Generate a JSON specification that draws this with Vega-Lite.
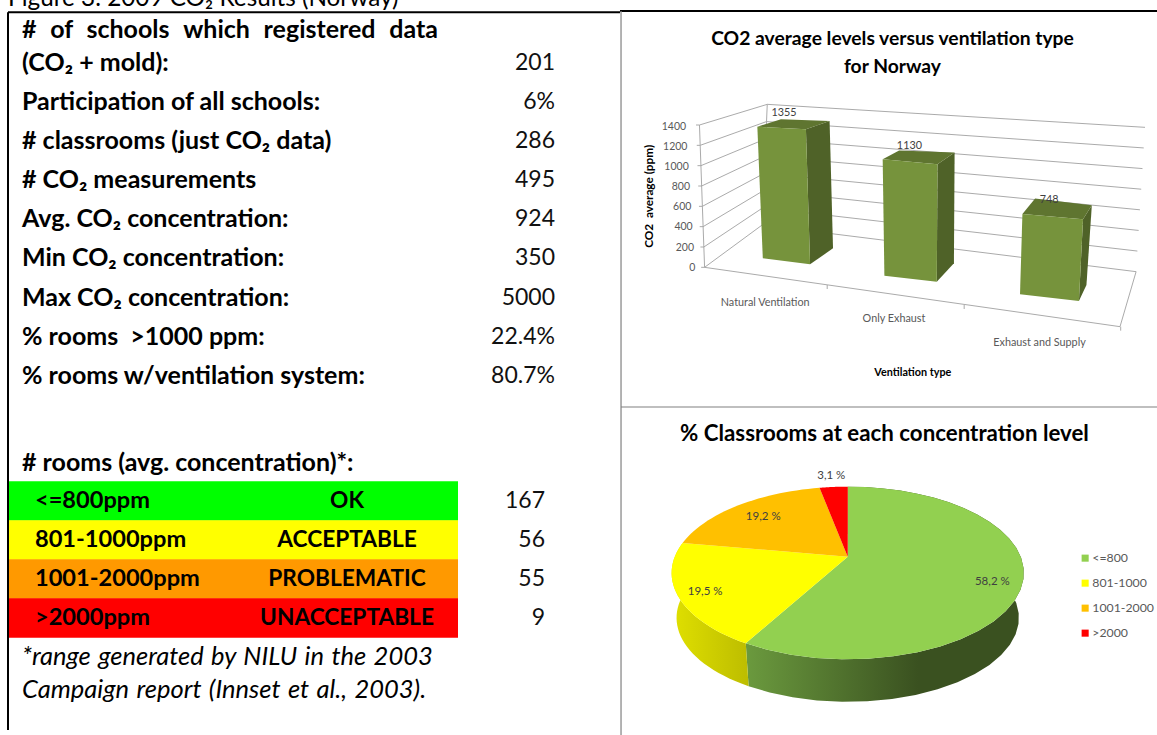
{"$schema":"https://vega.github.io/schema/vega-lite/v6.json","padding":0,"spacing":0,"bounds":"flush","background":"white","resolve":{"scale":{"fill":"independent"},"legend":{"fill":"independent"}},"config":{"view":{"stroke":null},"font":"Lato","text":{"font":"Lato"},"title":{"font":"Lato"},"legend":{"labelFont":"Lato"}},
"datasets":{
"frame":[{"part":"frame"}],
"stats":[{"line":1,"label":"#\u00a0\u00a0\u200aof\u00a0\u00a0\u200aschools\u00a0\u00a0\u200awhich\u00a0\u00a0\u200aregistered\u00a0\u00a0\u200adata"},{"line":2,"label":"(CO\u2082 + mold):","value":"201"},{"line":3,"label":"Participation of all schools:","value":"6%"},{"line":4,"label":"# classrooms (just CO\u2082 data)","value":"286"},{"line":5,"label":"# CO\u2082 measurements","value":"495"},{"line":6,"label":"Avg. CO\u2082 concentration:","value":"924"},{"line":7,"label":"Min CO\u2082 concentration:","value":"350"},{"line":8,"label":"Max CO\u2082 concentration:","value":"5000"},{"line":9,"label":"% rooms \u00a0>1000 ppm:","value":"22.4%"},{"line":10,"label":"% rooms w/ventilation system:","value":"80.7%"},{"line":11,"label":"# rooms (avg. concentration)*:"}],
"levels":[{"line":12,"range":"<=800ppm","status":"OK","count":167},{"line":13,"range":"801-1000ppm","status":"ACCEPTABLE","count":56},{"line":14,"range":"1001-2000ppm","status":"PROBLEMATIC","count":55},{"line":15,"range":">2000ppm","status":"UNACCEPTABLE","count":9}],
"notes":[{"line":0,"kind":"caption","label":"Figure 3. 2009 CO\u2082 Results (Norway)"},{"line":16,"kind":"note","label":"*range\u00a0\u200agenerated\u00a0\u200aby\u00a0\u200aNILU\u00a0\u200ain\u00a0\u200athe\u00a0\u200a2003"},{"line":17,"kind":"note","label":"Campaign \u200areport \u200a(Innset \u200aet \u200aal., \u200a2003)."}],
"bars":[{"type":"Natural Ventilation","value":1355,"i":0},{"type":"Only Exhaust","value":1130,"i":1},{"type":"Exhaust and Supply","value":748,"i":2}],
"ticks":[{"tick":0},{"tick":200},{"tick":400},{"tick":600},{"tick":800},{"tick":1000},{"tick":1200},{"tick":1400}],
"slices":[{"level":"<=800","share":58.2,"label":"58,2 %","i":0},{"level":"801-1000","share":19.5,"label":"19,5 %","i":1},{"level":"1001-2000","share":19.2,"label":"19,2 %","i":2},{"level":">2000","share":3.1,"label":"3,1 %","i":3}]
},
"hconcat":[
{"width":620,"height":735,
"encoding":{"x":{"field":"col","type":"quantitative","axis":null,"scale":{"domain":[0,1,2,3,4,5,6,7],"range":[8,22,35,347,458,545,555,620],"nice":false,"zero":false}},"y":{"field":"line","type":"quantitative","axis":null,"scale":{"domain":[0,1,2,3,4,5,6,7,8,9,10,11,12,13,14,15,16,17,18],"range":[-5,30,63,102,141,180,219,258,298,337,376,463,501,540,579,618,657,690,735],"nice":false,"zero":false}}},
"layer":[
{"data":{"name":"levels"},"transform":[{"calculate":"0","as":"col"},{"calculate":"4","as":"colEnd"}],"mark":{"type":"bar","orient":"horizontal","size":39.5},"encoding":{"x2":{"field":"colEnd"},"fill":{"field":"range","type":"nominal","legend":null,"scale":{"domain":["<=800ppm","801-1000ppm","1001-2000ppm",">2000ppm"],"range":["#00ff00","#ffff00","#ff9900","#ff0000"]}}}},
{"data":{"name":"stats"},"transform":[{"calculate":"1","as":"col"}],"mark":{"type":"text","align":"left","fontSize":25,"fontWeight":"bold","color":"#000"},"encoding":{"text":{"field":"label"}}},
{"data":{"name":"stats"},"transform":[{"filter":"datum.value"},{"calculate":"6","as":"col"}],"mark":{"type":"text","align":"right","fontSize":23,"color":"#111"},"encoding":{"text":{"field":"value"}}},
{"data":{"name":"levels"},"transform":[{"calculate":"2","as":"col"}],"mark":{"type":"text","align":"left","fontSize":23.6,"fontWeight":"bold","color":"#000"},"encoding":{"text":{"field":"range"}}},
{"data":{"name":"levels"},"transform":[{"calculate":"3","as":"col"}],"mark":{"type":"text","align":"center","fontSize":22.7,"fontWeight":"bold","color":"#000"},"encoding":{"text":{"field":"status"}}},
{"data":{"name":"levels"},"transform":[{"calculate":"5","as":"col"}],"mark":{"type":"text","align":"right","fontSize":23,"color":"#111"},"encoding":{"text":{"field":"count"}}},
{"data":{"name":"notes"},"transform":[{"filter":"datum.kind=='note'"},{"calculate":"1","as":"col"}],"mark":{"type":"text","align":"left","fontSize":25.5,"fontStyle":"italic","color":"#000"},"encoding":{"text":{"field":"label"}}},
{"data":{"name":"notes"},"transform":[{"filter":"datum.kind=='caption'"},{"calculate":"0","as":"col"}],"mark":{"type":"text","align":"left","fontSize":24.3,"color":"#000","clip":true},"encoding":{"text":{"field":"label"}}},
{"data":{"name":"frame"},"transform":[{"calculate":"0","as":"col"},{"calculate":"0.43","as":"line"},{"calculate":"18","as":"lineEnd"}],"mark":{"type":"rule","color":"#000","strokeWidth":2},"encoding":{"y2":{"field":"lineEnd"}}},
{"data":{"name":"frame"},"transform":[{"calculate":"0","as":"col"},{"calculate":"7","as":"colEnd"},{"calculate":"0.43","as":"line"}],"mark":{"type":"rule","color":"#000","strokeWidth":2},"encoding":{"x2":{"field":"colEnd"}}}
]},
{"spacing":0,"bounds":"flush","resolve":{"scale":{"fill":"independent"}},"vconcat":[
{"width":537,"height":408,
"title":{"text":["CO2 average levels versus ventilation type","for Norway"],"fontSize":19.3,"fontWeight":"bold","color":"#000","lineHeight":28,"baseline":"top","offset":-77,"dx":4},
"encoding":{"x":{"field":"px","type":"quantitative","axis":null,"scale":{"domain":[0,1568],"nice":false,"zero":false}},"y":{"field":"py","type":"quantitative","axis":null,"scale":{"domain":[1194,-30],"nice":false,"zero":false}}},
"layer":[
{"data":{"name":"frame"},"transform":[{"calculate":"0","as":"px"},{"calculate":"1568","as":"pxEnd"},{"calculate":"3","as":"py"}],"mark":{"type":"rule","color":"#000","strokeWidth":2},"encoding":{"x2":{"field":"pxEnd"}}},
{"data":{"name":"frame"},"transform":[{"calculate":"3","as":"px"},{"calculate":"3","as":"py"},{"calculate":"1194","as":"pyEnd"}],"mark":{"type":"rule","color":"#808080","strokeWidth":1.2},"encoding":{"y2":{"field":"pyEnd"}}},
{"data":{"name":"frame"},"transform":[{"calculate":"3","as":"px"},{"calculate":"1568","as":"pxEnd"},{"calculate":"1191","as":"py"}],"mark":{"type":"rule","color":"#808080","strokeWidth":1.2},"encoding":{"x2":{"field":"pxEnd"}}},
{"data":{"name":"ticks"},"transform":[{"calculate":"datum.tick/1400","as":"f"},{"calculate":"[0,1,2,3]","as":"k"},{"flatten":["k"]},{"calculate":"[237-15*datum.f,247-15*datum.f,415+15*datum.f,1507+26*datum.f][datum.k]","as":"px"},{"calculate":"[772-427*datum.f,772-427*datum.f,645-362*datum.f,785-433*datum.f][datum.k]","as":"py"}],"mark":{"type":"line","color":"#a0a0a0","strokeWidth":0.9},"encoding":{"detail":{"field":"tick"},"order":{"field":"k"}}},
{"data":{"name":"ticks"},"transform":[{"calculate":"datum.tick/1400","as":"f"},{"calculate":"247-15*datum.f","as":"px"},{"calculate":"772-427*datum.f","as":"py"}],"mark":{"type":"line","color":"#a0a0a0","strokeWidth":0.9},"encoding":{"order":{"field":"tick"}}},
{"data":{"name":"ticks"},"transform":[{"calculate":"datum.tick/1400","as":"f"},{"calculate":"415+15*datum.f","as":"px"},{"calculate":"645-362*datum.f","as":"py"}],"mark":{"type":"line","color":"#a0a0a0","strokeWidth":0.9},"encoding":{"order":{"field":"tick"}}},
{"data":{"name":"ticks"},"transform":[{"filter":"datum.tick==0"},{"calculate":"[0,1,2]","as":"k"},{"flatten":["k"]},{"calculate":"[247,1460,1507][datum.k]","as":"px"},{"calculate":"[772,950,785][datum.k]","as":"py"}],"mark":{"type":"line","color":"#a0a0a0","strokeWidth":0.9},"encoding":{"order":{"field":"k"}}},
{"data":{"name":"bars"},"transform":[{"calculate":"[605,1005,1462][datum.i]","as":"px"},{"calculate":"[825,885,950][datum.i]","as":"py"},{"calculate":"datum.py+12","as":"py2"}],"mark":{"type":"rule","color":"#a0a0a0","strokeWidth":0.9},"encoding":{"y2":{"field":"py2"}}},
{"data":{"name":"ticks"},"transform":[{"calculate":"datum.tick/1400","as":"f"},{"calculate":"220-27*datum.f","as":"px"},{"calculate":"773-423*datum.f","as":"py"}],"mark":{"type":"text","align":"right","fontSize":10.5,"color":"#595959"},"encoding":{"text":{"field":"tick"}}},
{"data":{"name":"bars"},"transform":[
{"calculate":"[417,772,1168][datum.i]","as":"flx"},{"calculate":"[745,797,853][datum.i]","as":"fly"},
{"calculate":"[555,925,1340][datum.i]","as":"frx"},{"calculate":"[763,815,873][datum.i]","as":"fry"},
{"calculate":"[622,975,1362][datum.i]","as":"brx"},{"calculate":"[715,760,825][datum.i]","as":"bry"},
{"calculate":"datum.flx+[-0.0118,-0.0044,0.0094][datum.i]*datum.value","as":"tflx"},{"calculate":"datum.fly-[0.2915,0.309,0.322][datum.i]*datum.value","as":"tfly"},
{"calculate":"datum.frx+[-0.0089,0.0018,0.016][datum.i]*datum.value","as":"tfrx"},{"calculate":"datum.fry-[0.299,0.312,0.3275][datum.i]*datum.value","as":"tfry"},
{"calculate":"datum.brx+[-0.0074,0.0018,0.021][datum.i]*datum.value","as":"tbrx"},{"calculate":"datum.bry-[0.282,0.294,0.32][datum.i]*datum.value","as":"tbry"},
{"calculate":"datum.tflx+[69,48,37][datum.i]","as":"tblx"},{"calculate":"datum.tfly-[22,26,47][datum.i]","as":"tbly"}],
"layer":[
{"transform":[{"calculate":"[0,1,2,3]","as":"k"},{"flatten":["k"]},{"calculate":"[datum.frx,datum.brx,datum.tbrx,datum.tfrx][datum.k]","as":"px"},{"calculate":"[datum.fry,datum.bry,datum.tbry,datum.tfry][datum.k]","as":"py"}],"mark":{"type":"line","fill":"#4f6228","stroke":null},"encoding":{"detail":{"field":"type"},"order":{"field":"k"}}},
{"transform":[{"calculate":"[0,1,2,3]","as":"k"},{"flatten":["k"]},{"calculate":"[datum.tflx,datum.tblx,datum.tbrx,datum.tfrx][datum.k]","as":"px"},{"calculate":"[datum.tfly,datum.tbly,datum.tbry,datum.tfry][datum.k]","as":"py"}],"mark":{"type":"line","fill":"#5f7530","stroke":null},"encoding":{"detail":{"field":"type"},"order":{"field":"k"}}},
{"transform":[{"calculate":"[0,1,2,3]","as":"k"},{"flatten":["k"]},{"calculate":"[datum.flx,datum.frx,datum.tfrx,datum.tflx][datum.k]","as":"px"},{"calculate":"[datum.fly,datum.fry,datum.tfry,datum.tfly][datum.k]","as":"py"}],"mark":{"type":"line","fill":"#76933c","stroke":null},"encoding":{"detail":{"field":"type"},"order":{"field":"k"}}},
{"transform":[{"calculate":"datum.tflx+78","as":"px"},{"calculate":"datum.tfly-41","as":"py"}],"mark":{"type":"text","fontSize":10.8,"color":"#404040"},"encoding":{"text":{"field":"value"}}}
]},
{"data":{"name":"bars"},"transform":[{"calculate":"[424,800,1225][datum.i]","as":"px"},{"calculate":"[878,928,1000][datum.i]","as":"py"}],"mark":{"type":"text","fontSize":10.8,"color":"#595959"},"encoding":{"text":{"field":"type"}}},
{"data":{"name":"frame"},"transform":[{"calculate":"855","as":"px"},{"calculate":"1090","as":"py"}],"mark":{"type":"text","fontSize":10.8,"fontWeight":"bold","color":"#000"},"encoding":{"text":{"value":"Ventilation type"}}},
{"data":{"name":"frame"},"transform":[{"calculate":"85","as":"px"},{"calculate":"559","as":"py"}],"mark":{"type":"text","fontSize":11.8,"fontWeight":"bold","angle":270,"color":"#000"},"encoding":{"text":{"value":"CO2\u00a0\u00a0average (ppm)"}}}
]},
{"width":537,"height":327,
"title":{"text":"% Classrooms at each concentration level","fontSize":22.3,"fontWeight":"bold","color":"#000","baseline":"top","offset":-38,"dx":-4},
"data":{"name":"slices"},
"transform":[{"window":[{"op":"sum","field":"share","as":"cum"}],"frame":[null,0],"sort":[{"field":"i"}]},{"calculate":"datum.cum-datum.share","as":"start"}],
"encoding":{"x":{"field":"px","type":"quantitative","axis":null,"scale":{"domain":[0,1568],"nice":false,"zero":false}},"y":{"field":"py","type":"quantitative","axis":null,"scale":{"domain":[975,-6],"nice":false,"zero":false}}},
"layer":[
{"data":{"name":"frame"},"transform":[{"calculate":"3","as":"px"},{"calculate":"-6","as":"py"},{"calculate":"975","as":"pyEnd"}],"mark":{"type":"rule","color":"#808080","strokeWidth":1.2},"encoding":{"y2":{"field":"pyEnd"}}},
{"transform":[{"filter":"datum.i==0"},{"calculate":"[0,1,2,3,4,5,6,7,8,9,10,11,12,13,14,15,16,17,18,19,20,21,22,23,24,25,26,27,28,29,30,31,32,33,34,35,36,37,38,39,40,41,42,43,44,45,46,47,48,49,50,51,52,53,54,55,56,57,58,59,60,61]","as":"k"},{"flatten":["k"]},{"calculate":"(datum.k<=30?datum.k:61-datum.k)/30","as":"t"},{"calculate":"2*PI*(datum.start+datum.share*datum.t)/100","as":"th"},{"calculate":"sin(datum.th)","as":"X"},{"calculate":"-cos(datum.th)","as":"Y"},{"calculate":"505*datum.X/(1-0.189*datum.Y)","as":"dx"},{"calculate":"249.7*datum.Y/(1-0.189*datum.Y)","as":"dy"},{"calculate":"datum.k<=30?665+datum.dx:665+0.972*datum.dx","as":"px"},{"calculate":"datum.k<=30?440+datum.dy:440+0.972*datum.dy+136","as":"py"}],"mark":{"type":"line","stroke":null,"fill":{"gradient":"linear","x1":0,"x2":1,"y1":0,"y2":0,"stops":[{"offset":0,"color":"#6b9a3e"},{"offset":0.62,"color":"#3a5120"},{"offset":1,"color":"#3a5120"}]}},"encoding":{"order":{"field":"k"}}},
{"transform":[{"filter":"datum.i==1"},{"calculate":"[0,1,2,3,4,5,6,7,8,9,10,11,12,13,14,15,16,17,18,19,20,21,22,23,24,25,26,27,28,29,30,31,32,33,34,35,36,37,38,39,40,41,42,43,44,45,46,47,48,49,50,51,52,53,54,55,56,57,58,59,60,61]","as":"k"},{"flatten":["k"]},{"calculate":"(datum.k<=30?datum.k:61-datum.k)/30","as":"t"},{"calculate":"2*PI*(datum.start+datum.share*datum.t)/100","as":"th"},{"calculate":"sin(datum.th)","as":"X"},{"calculate":"-cos(datum.th)","as":"Y"},{"calculate":"505*datum.X/(1-0.189*datum.Y)","as":"dx"},{"calculate":"249.7*datum.Y/(1-0.189*datum.Y)","as":"dy"},{"calculate":"datum.k<=30?665+datum.dx:665+0.972*datum.dx","as":"px"},{"calculate":"datum.k<=30?440+datum.dy:440+0.972*datum.dy+136","as":"py"}],"mark":{"type":"line","stroke":null,"fill":{"gradient":"linear","x1":0,"x2":1,"y1":0,"y2":0,"stops":[{"offset":0,"color":"#e0e000"},{"offset":1,"color":"#bdbd00"}]}},"encoding":{"order":{"field":"k"}}},
{"transform":[{"calculate":"[-1,0,1,2,3,4,5,6,7,8,9,10,11,12,13,14,15,16,17,18,19,20,21,22,23,24,25,26,27,28,29,30]","as":"k"},{"flatten":["k"]},{"calculate":"2*PI*(datum.start+datum.share*max(datum.k,0)/30)/100","as":"th"},{"calculate":"datum.k<0?0:1","as":"r"},{"calculate":"datum.r*sin(datum.th)","as":"X"},{"calculate":"-datum.r*cos(datum.th)","as":"Y"},{"calculate":"665+505*datum.X/(1-0.189*datum.Y)","as":"px"},{"calculate":"440+249.7*datum.Y/(1-0.189*datum.Y)","as":"py"}],"mark":{"type":"line","stroke":null},"encoding":{"order":{"field":"k"},"fill":{"field":"level","type":"nominal","sort":null,"scale":{"domain":["<=800","801-1000","1001-2000",">2000"],"range":["#92d050","#ffff00","#ffc000","#ff0000"]},"legend":{"title":null,"orient":"none","legendX":459,"legendY":144,"symbolType":"square","symbolSize":50,"labelFontSize":12.3,"labelOffset":1,"labelColor":"#595959","rowPadding":12,"symbolStrokeWidth":0}}}},
{"transform":[{"calculate":"2*PI*(datum.start+datum.share/2)/100","as":"th"},{"calculate":"[0.83,0.85,0.75,1.2][datum.i]","as":"r"},{"calculate":"datum.r*sin(datum.th)","as":"X"},{"calculate":"-datum.r*cos(datum.th)","as":"Y"},{"calculate":"665+505*datum.X/(1-0.189*datum.Y)","as":"px"},{"calculate":"440+249.7*datum.Y/(1-0.189*datum.Y)+[22,8,0,0][datum.i]","as":"py"}],"mark":{"type":"text","fontSize":11.5,"color":"#404040"},"encoding":{"text":{"field":"label"}}}
]}
]}
]}
